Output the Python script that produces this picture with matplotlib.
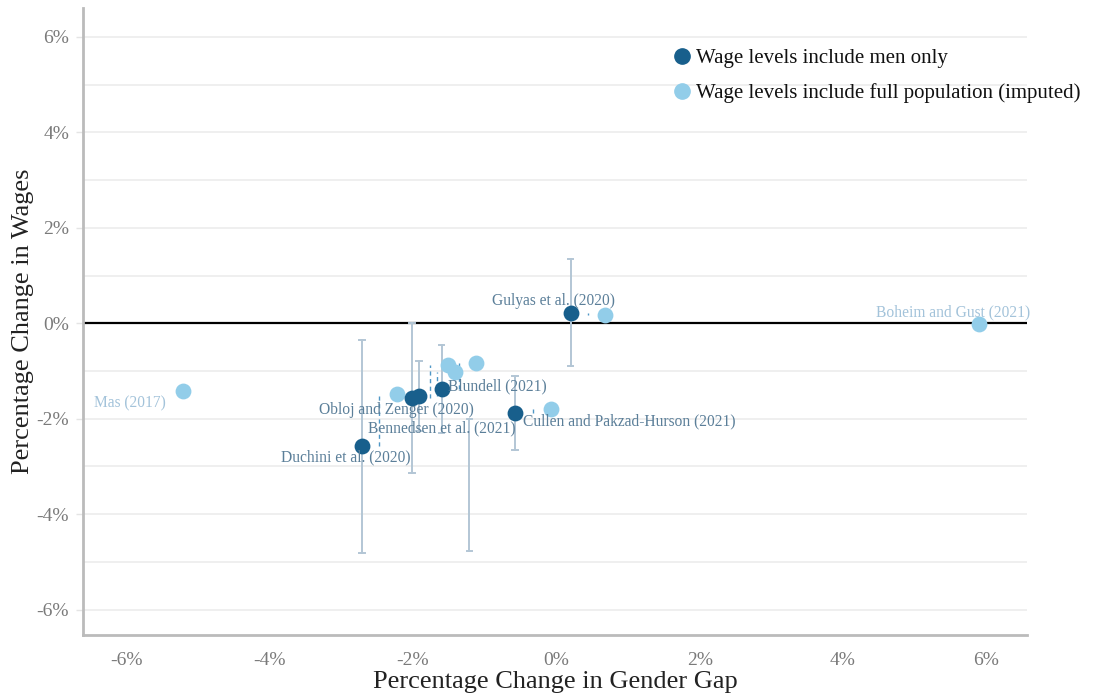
import matplotlib
matplotlib.use("Agg")
import matplotlib.pyplot as plt
from matplotlib.lines import Line2D

# ---- data ----
studies = ["Duchini et al. (2020)", "Obloj and Zenger (2020)", "Bennedsen et al. (2021)",
           "Blundell (2021)", "Cullen and Pakzad-Hurson (2021)", "Gulyas et al. (2020)"]
men_x = [-2.71, -2.01, -1.91, -1.60, -0.57, 0.20]
men_y = [-2.57, -1.57, -1.53, -1.38, -1.88, 0.21]
imp_x = [-2.22, -1.51, -1.41, -1.12, -0.07, 0.68]
imp_y = [-1.49, -0.88, -1.03, -0.84, -1.80, 0.17]

solo_names = ["Mas (2017)", "Boheim and Gust (2021)"]
solo_x = [-5.20, 5.89]
solo_y = [-1.42, -0.02]

err_x = [-2.71, -2.01, -1.91, -1.60, -1.21, -0.57, 0.20]
err_lo = [-4.81, -3.14, -2.26, -2.30, -4.77, -2.66, -0.90]
err_hi = [-0.36, 0.00, -0.79, -0.46, -2.01, -1.11, 1.34]

# label anchor positions (data units)
lab_x = [-2.94, -2.23, -1.59, -1.51, 1.02, -0.04]
lab_y = [-2.82, -1.82, -2.20, -1.32, -2.05, 0.46]
lab_ha = ["center", "center", "center", "left", "center", "center"]
solo_lab_x = [-5.94, 5.54]
solo_lab_y = [-1.67, 0.23]

xticks = [-6, -4, -2, 0, 2, 4, 6]
yticks = [-6, -4, -2, 0, 2, 4, 6]
tick_labels = ["-6%", "-4%", "-2%", "0%", "2%", "4%", "6%"]

DARK = "#185f8c"
LIGHT = "#92cde9"
ERR = "#b3c6d5"
DASH = "#4f97c6"
LABC = "#5b7f99"
LABL = "#a3c3da"
SERIF = ["Liberation Serif", "DejaVu Serif"]

fig = plt.figure(figsize=(11.07, 6.98), dpi=100)
ax = fig.add_axes([0.075, 0.0903, 0.853, 0.898])

ax.set_xlim(-6.6, 6.57)
ax.set_ylim(-6.53, 6.6)

# grid at each 1%
for g in range(-6, 7):
    ax.axhline(g, color="#ebebeb", lw=1.1, zorder=0)
ax.axhline(0, color="black", lw=1.6, zorder=1)

# error bars
for x, lo, hi in zip(err_x, err_lo, err_hi):
    ax.plot([x, x], [lo, hi], color=ERR, lw=1.4, zorder=2)
    for yy in (lo, hi):
        ax.plot([x - 0.04, x + 0.04], [yy, yy], color=ERR, lw=1.4, zorder=2)

# dashed connectors
for mx, my, ix, iy in zip(men_x, men_y, imp_x, imp_y):
    xm = (mx + ix) / 2
    ax.plot([xm, xm], [my, iy], color=DASH, lw=1.0, ls=(0, (3, 2.5)), zorder=2)

ax.scatter(solo_x + imp_x, solo_y + imp_y, s=130, color=LIGHT, zorder=3, linewidths=0)
ax.scatter(men_x, men_y, s=130, color=DARK, zorder=4, linewidths=0)

for name, x, y, ha in zip(studies, lab_x, lab_y, lab_ha):
    ax.text(x, y, name, ha=ha, va="center", fontsize=11.2, color=LABC, family=SERIF, zorder=5)
for name, x, y in zip(solo_names, solo_lab_x, solo_lab_y):
    ax.text(x, y, name, ha="center", va="center", fontsize=11.2, color=LABL, family=SERIF, zorder=5)

ax.set_xticks(xticks)
ax.set_xticklabels(tick_labels)
ax.set_yticks(yticks)
ax.set_yticklabels(tick_labels)
for lab in ax.get_xticklabels() + ax.get_yticklabels():
    lab.set_family(SERIF)
    lab.set_fontsize(14)
    lab.set_color("#7a7a7a")
ax.tick_params(axis="y", length=5, color="#e4e4e4", width=1, pad=5)
ax.tick_params(axis="x", length=0, pad=12)

for s in ["top", "right"]:
    ax.spines[s].set_visible(False)
for s in ["left", "bottom"]:
    ax.spines[s].set_color("#bbbbbb")
    ax.spines[s].set_linewidth(2)

ax.set_xlabel("Percentage Change in Gender Gap", family=SERIF, fontsize=19, color="#222222", labelpad=2)
ax.set_ylabel("Percentage Change in Wages", family=SERIF, fontsize=19, color="#222222", labelpad=2)

handles = [Line2D([0], [0], marker="o", ls="", color=DARK, markersize=11),
           Line2D([0], [0], marker="o", ls="", color=LIGHT, markersize=11)]
leg = ax.legend(handles, ["Wage levels include men only", "Wage levels include full population (imputed)"],
                loc="upper left", bbox_to_anchor=(0.603, 0.965), frameon=False,
                prop={"family": SERIF, "size": 15}, handletextpad=0.2, labelspacing=0.7,
                handlelength=1.0)
for t in leg.get_texts():
    t.set_color("#111111")

fig.savefig("out.png", dpi=100)
